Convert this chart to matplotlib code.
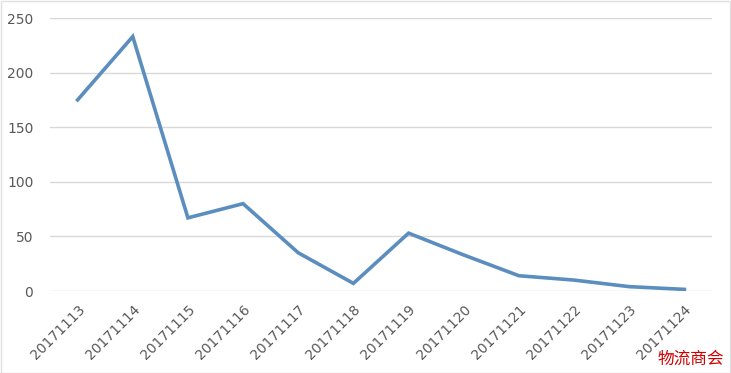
import matplotlib.pyplot as plt

dates = ['20171113', '20171114', '20171115', '20171116', '20171117', '20171118',
         '20171119', '20171120', '20171121', '20171122', '20171123', '20171124']
values = [175, 233, 67, 80, 35, 7, 53, 33, 14, 10, 4, 1.5]
yticks = [0, 50, 100, 150, 200, 250]

plt.rcParams['font.family'] = ['DejaVu Sans', 'Noto Sans CJK SC']

fig = plt.figure(figsize=(7.31, 3.73), dpi=100)
ax = fig.add_axes([0.0684, 0.2198, 0.9056, 0.7319])

x = range(len(dates))
ax.plot(x, values, color='#5b8ebf', linewidth=2.6, solid_joinstyle='miter')

ax.set_xlim(-0.5, len(dates) - 0.5)
ax.set_ylim(0, 250)
ax.set_yticks(yticks)
ax.set_xticks(list(x))
ax.set_xticklabels(dates, rotation=45, ha='right', va='top', rotation_mode='anchor')
ax.tick_params(length=0, labelsize=10, labelcolor='#595959')
ax.tick_params(axis='y', pad=12)
ax.tick_params(axis='x', pad=8)
ax.grid(axis='y', color='#d9d9d9', linewidth=1)
ax.set_axisbelow(True)
for s in ax.spines.values():
    s.set_visible(False)

fig.text(0.991, 0.015, '物流商会', color='#d00000', fontsize=12,
         family=['Noto Sans CJK SC'], ha='right', va='bottom')
fig.patches.append(plt.Rectangle((0.001, 0.001), 0.997, 0.997, transform=fig.transFigure,
                                 fill=False, edgecolor='#e0e0e0', linewidth=1))

plt.savefig('out.png', dpi=100)
